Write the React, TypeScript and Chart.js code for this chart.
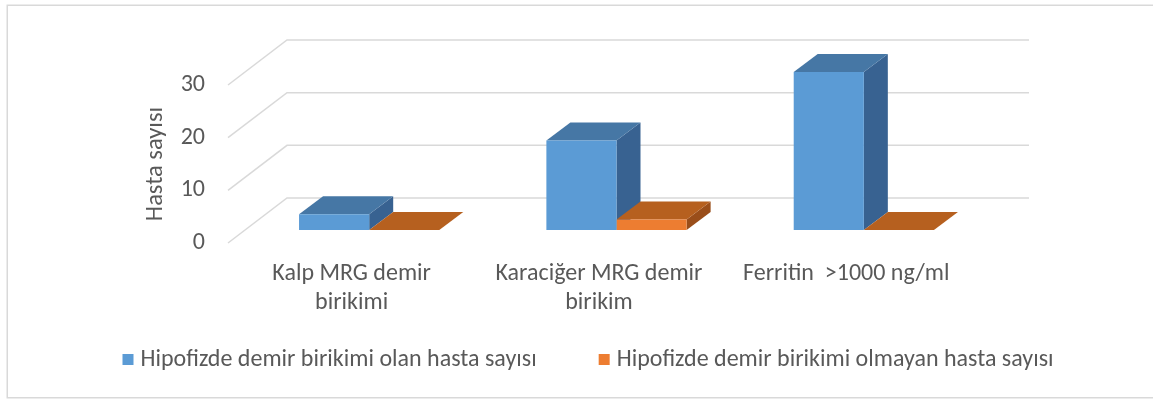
import React, { useEffect, useRef } from 'react';
import { Chart, registerables } from 'chart.js';

Chart.register(...registerables);

// ---- data ----
const categories: (string | string[])[] = [
  ['Kalp MRG demir', 'birikimi'],
  ['Karaciğer MRG demir', 'birikim'],
  'Ferritin  >1000 ng/ml',
];
const seriesNames = [
  'Hipofizde demir birikimi olan hasta sayısı',
  'Hipofizde demir birikimi olmayan hasta sayısı',
];
const withIron = [3, 17, 30];
const withoutIron = [0, 2, 0];
const yTicks = [0, 10, 20, 30];
const yTitle = 'Hasta sayısı';

// ---- style ----
const FONT = 'Calibri, Carlito, Lato, "Open Sans", sans-serif';
const TEXT = '#595959';
const GRID = '#d9d9d9';
const frontColors = ['#5b9bd5', '#ed7d31'];
const faceColors = [
  { top: '#4677a5', side: '#386291' },
  { top: '#b6601f', side: '#9a4e1a' },
];
const WALL = { dx: 59, dy: -45 };
const BAR_SHIFT = { dx: 17.5, dy: -13 };
const BAR_DEPTH = { dx: 24, dy: -18 };

const PAD = { left: 60.5, right: 8, top: 85, bottom: 19.5 };
const PLOT_LEFT = 228;
const PLOT_RIGHT = 970;
const CAT_LINE = 29;

const threeD = {
  id: 'threeD',
  beforeDraw(chart: any) {
    const { ctx } = chart;
    // let the two-line category labels run below the (short) x-axis box
    const xs = chart.scales.x;
    xs.bottom = xs.top + 90;
    ctx.save();
    ctx.fillStyle = '#ffffff';
    ctx.fillRect(0, 0, chart.width, chart.height);
    ctx.strokeStyle = GRID;
    ctx.lineWidth = 1.5;
    ctx.strokeRect(7.25, 5.25, chart.width + 20, 392.5);
    ctx.restore();
  },
  beforeDatasetsDraw(chart: any) {
    const { ctx, chartArea: a } = chart;
    const ys = chart.scales.y;
    ctx.save();
    ctx.strokeStyle = GRID;
    ctx.lineWidth = 1.5;
    ys.ticks.forEach((t: any) => {
      const y = ys.getPixelForValue(t.value);
      ctx.beginPath();
      ctx.moveTo(a.left, y);
      ctx.lineTo(a.left + WALL.dx, y + WALL.dy);
      ctx.lineTo(a.right + WALL.dx, y + WALL.dy);
      ctx.stroke();
    });
    ctx.restore();

    ctx.save();
    ctx.translate(BAR_SHIFT.dx, BAR_SHIFT.dy);
    // top and side faces, in dataset order; fronts are drawn by the library afterwards
    chart.data.datasets.forEach((_ds: any, di: number) => {
      const meta = chart.getDatasetMeta(di);
      const c = faceColors[di];
      meta.data.forEach((el: any) => {
        const { x, y, base, width } = el.getProps(['x', 'y', 'base', 'width'], true);
        const l = x - width / 2;
        const r = x + width / 2;
        const top = Math.min(y, base);
        const bot = Math.max(y, base);
        ctx.fillStyle = c.side;
        ctx.beginPath();
        ctx.moveTo(r, top);
        ctx.lineTo(r + BAR_DEPTH.dx, top + BAR_DEPTH.dy);
        ctx.lineTo(r + BAR_DEPTH.dx, bot + BAR_DEPTH.dy);
        ctx.lineTo(r, bot);
        ctx.closePath();
        ctx.fill();
        ctx.fillStyle = c.top;
        ctx.beginPath();
        ctx.moveTo(l, top);
        ctx.lineTo(r, top);
        ctx.lineTo(r + BAR_DEPTH.dx, top + BAR_DEPTH.dy);
        ctx.lineTo(l + BAR_DEPTH.dx, top + BAR_DEPTH.dy);
        ctx.closePath();
        ctx.fill();
      });
    });
  },
  afterDatasetsDraw(chart: any) {
    chart.ctx.restore();
  },
};

export default function App() {
  const ref = useRef<HTMLCanvasElement | null>(null);

  useEffect(() => {
    if (!ref.current) return;
    const chart = new Chart(ref.current, {
      type: 'bar',
      data: {
        labels: categories,
        datasets: [
          {
            label: seriesNames[0],
            data: withIron,
            backgroundColor: frontColors[0],
            borderWidth: 0,
            clip: false as any,
          },
          {
            label: seriesNames[1],
            data: withoutIron,
            backgroundColor: frontColors[1],
            borderWidth: 0,
            clip: false as any,
          },
        ],
      },
      options: {
        responsive: false,
        animation: false,
        events: [],
        layout: { padding: PAD },
        datasets: {
          bar: { categoryPercentage: 0.567, barPercentage: 1 },
        },
        scales: {
          x: {
            grid: { display: false, drawTicks: false },
            border: { display: false },
            ticks: {
              color: TEXT,
              font: { family: FONT, size: 24, lineHeight: CAT_LINE / 24 },
              padding: 16,
              autoSkip: false,
              maxRotation: 0,
            },
            afterFit: (s: any) => {
              s.height = 37.5;
            },
          },
          y: {
            position: 'left',
            min: yTicks[0],
            max: yTicks[yTicks.length - 1],
            grid: { display: false, drawTicks: false },
            border: { display: false },
            ticks: {
              stepSize: yTicks[1] - yTicks[0],
              color: TEXT,
              font: { family: FONT, size: 24 },
              padding: 23,
            },
            title: {
              display: true,
              text: yTitle,
              color: TEXT,
              font: { family: FONT, size: 24.5 },
              padding: { top: 80.8, bottom: 0 },
            },
            afterFit: (s: any) => {
              s.width = PLOT_LEFT - PAD.left;
            },
          },
          yRight: {
            position: 'right',
            grid: { display: false, drawTicks: false },
            border: { display: false },
            ticks: { display: false },
            afterFit: (s: any) => {
              s.width = 1153 - PAD.right - PLOT_RIGHT;
            },
          },
        },
        plugins: {
          legend: {
            position: 'bottom',
            align: 'start',
            labels: {
              color: TEXT,
              font: { family: FONT, size: 24 },
              usePointStyle: true,
              pointStyle: 'rect',
              boxWidth: 1,
              boxHeight: 11,
              padding: 67,
            },
          },
          tooltip: { enabled: false },
        },
      },
      plugins: [threeD],
    });
    return () => chart.destroy();
  }, []);

  return (
    <div style={{ position: 'absolute', left: 0, top: 0, width: 1153, height: 401, background: '#fff' }}>
      <canvas ref={ref} width={1153} height={401} style={{ display: 'block' }} />
    </div>
  );
}
